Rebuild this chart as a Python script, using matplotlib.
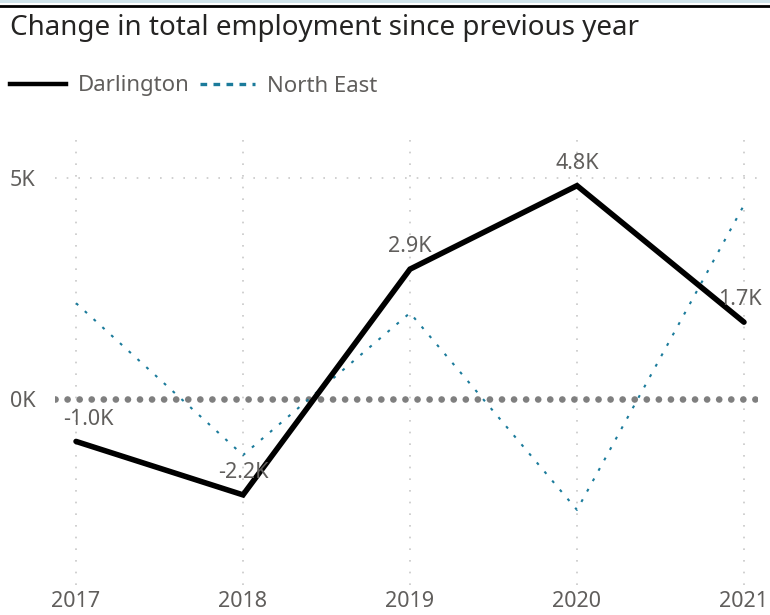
import matplotlib
matplotlib.use("Agg")
import matplotlib.pyplot as plt
from matplotlib.lines import Line2D
from matplotlib.patches import Rectangle
from matplotlib.ticker import FuncFormatter

plt.rcParams['font.family'] = ['Noto Sans', 'DejaVu Sans']

years = [2017, 2018, 2019, 2020, 2021]
darlington = [-960, -2170, 2940, 4830, 1740]
north_east = [2170, -1270, 1950, -2510, 4390]
y_ticks = [0, 5000]

grey_txt = '#605e5c'
teal = '#1b7b9b'

W, H = 770, 615
fig = plt.figure(figsize=(W / 100, H / 100), dpi=100)

# top band like the report page
fig.add_artist(Rectangle((0, 1 - 3 / H), 1, 3 / H, transform=fig.transFigure,
                         color='#cfe3ea', lw=0))
fig.add_artist(Line2D([0, 1], [1 - 6 / H, 1 - 6 / H], transform=fig.transFigure,
                      color='black', lw=2))

ax = fig.add_axes([55 / W, 30 / H, 703 / W, 455 / H])
ax.set_xlim(2016.874, 2021.084)
ax.set_ylim(-4210, 6090)

for s in ax.spines.values():
    s.set_visible(False)

# grid
for yr in years:
    ax.axvline(yr, color='#c8c8c8', lw=1.2, dashes=(1, 6), zorder=0)
ax.axhline(5000, color='#c8c8c8', lw=1.2, dashes=(1, 6), zorder=0)
ax.axhline(0, color='#7f7f7f', lw=4.8, dashes=(0.01, 1.8),
           dash_capstyle='round', zorder=1)

ax.plot(years, north_east, color=teal, lw=1.5, dashes=(1.4, 4.3), zorder=2)
ax.plot(years, darlington, color='black', lw=4, solid_capstyle='round',
        solid_joinstyle='miter', zorder=3)

# data labels (shifted at the edges to stay inside)
x_shift = [9, 0, 0, 0, -3]
for yr, v, dx in zip(years, darlington, x_shift):
    ax.annotate(f"{v / 1000:.1f}K", (yr, v), xytext=(dx, 16),
                textcoords='offset points', ha='center', va='center',
                fontsize=15.5, color=grey_txt, zorder=4)

ax.set_xticks(years)
ax.set_xticklabels([str(y) for y in years])
ax.set_yticks(y_ticks)
ax.yaxis.set_major_formatter(FuncFormatter(lambda v, p: f"{v / 1000:.0f}K"))
ax.tick_params(axis='both', length=0, labelsize=15.5, labelcolor=grey_txt)
ax.tick_params(axis='y', pad=14)
ax.tick_params(axis='x', pad=4)

fig.text(10 / W, 1 - 28 / H, 'Change in total employment since previous year',
         fontsize=20, color='#252423', ha='left', va='center')

handles = [Line2D([], [], color='black', lw=3.2),
           Line2D([], [], color=teal, lw=2.4, dashes=(2.0, 1.9))]
fig.legend(handles, ['Darlington', 'North East'], loc='center left',
           bbox_to_anchor=(10 / W, 1 - 86 / H), ncol=2, frameon=False,
           fontsize=16, labelcolor=grey_txt, handlelength=2.5,
           handletextpad=0.55, columnspacing=0.45, borderpad=0, borderaxespad=0)

fig.savefig('out.png', dpi=100)
